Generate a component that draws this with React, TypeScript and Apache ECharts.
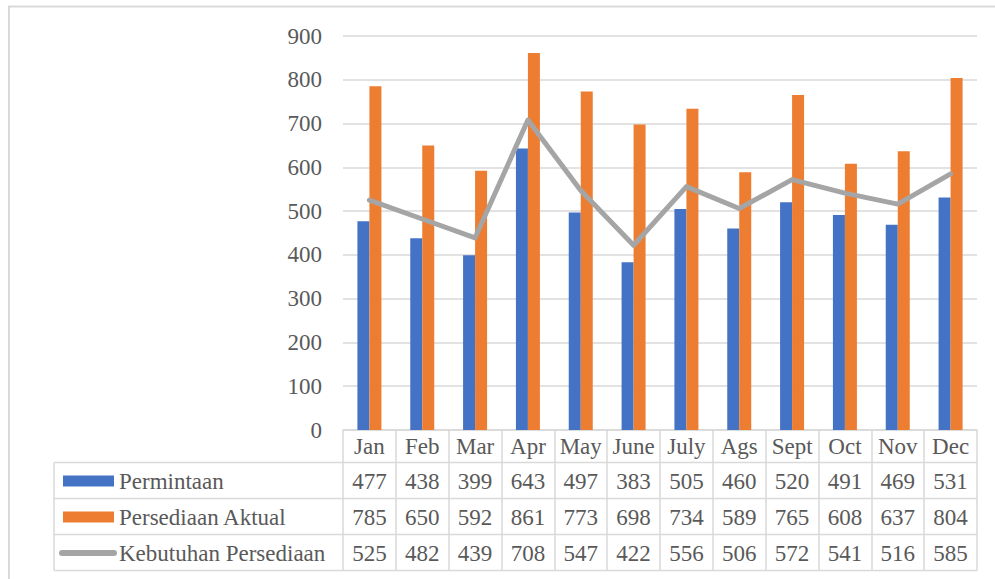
import React, { useEffect, useRef } from "react";
import * as echarts from "echarts";

const months = ["Jan", "Feb", "Mar", "Apr", "May", "June", "July", "Ags", "Sept", "Oct", "Nov", "Dec"];
const permintaan = [477, 438, 399, 643, 497, 383, 505, 460, 520, 491, 469, 531];
const persediaanAktual = [785, 650, 592, 861, 773, 698, 734, 589, 765, 608, 637, 804];
const kebutuhanPersediaan = [525, 482, 439, 708, 547, 422, 556, 506, 572, 541, 516, 585];
const seriesNames = ["Permintaan", "Persediaan Aktual", "Kebutuhan Persediaan"];
const yTicks = [0, 100, 200, 300, 400, 500, 600, 700, 800, 900];

const FONT = "'Liberation Serif', 'Times New Roman', serif";
const TEXT = "#595959";
const LINE = "#D9D9D9";
const BLUE = "#4472C4";
const ORANGE = "#ED7D31";
const GRAY = "#A5A5A5";

export default function App() {
  const ref = useRef<HTMLDivElement>(null);
  useEffect(() => {
    if (!ref.current) return;
    const chart = echarts.init(ref.current, undefined, { renderer: "svg" });

    const gridLeft = 343;
    const gridRight = 977;
    const gridTop = 36;
    const gridBottomY = 430;
    const rowLines = [462.5, 498.5, 534.5, 570.5];
    const rowCenters = [481, 517, 553];
    const tableLeft = 54;

    const valueRows = [permintaan, persediaanAktual, kebutuhanPersediaan];

    const extraAxes = valueRows.map((arr, r) => ({
      type: "category" as const,
      data: months,
      position: "bottom" as const,
      gridIndex: 0,
      axisLine: { show: false },
      axisTick: { show: false },
      splitLine: { show: false },
      axisLabel: {
        interval: 0,
        margin: rowCenters[r] - gridBottomY,
        verticalAlign: "middle" as const,
        color: TEXT,
        fontFamily: FONT,
        fontSize: 23,
        formatter: (_v: string, i: number) => String(arr[i]),
      },
    }));

    const graphics: any[] = [
      {
        type: "rect",
        shape: { x: 9, y: 6.5, width: 1200, height: 800 },
        style: { fill: "none", stroke: LINE, lineWidth: 2 },
        silent: true,
      },
    ];
    rowLines.forEach((y) => {
      graphics.push({
        type: "line",
        shape: { x1: tableLeft, y1: y, x2: gridRight, y2: y },
        style: { stroke: LINE, lineWidth: 1.5 },
        silent: true,
      });
    });
    graphics.push({
      type: "line",
      shape: { x1: tableLeft, y1: rowLines[0], x2: tableLeft, y2: rowLines[3] },
      style: { stroke: LINE, lineWidth: 1.5 },
      silent: true,
    });
    graphics.push({
      type: "rect",
      shape: { x: 63, y: rowCenters[0] - 5.5, width: 51, height: 11 },
      style: { fill: BLUE },
      silent: true,
    });
    graphics.push({
      type: "rect",
      shape: { x: 63, y: rowCenters[1] - 5.5, width: 51, height: 11 },
      style: { fill: ORANGE },
      silent: true,
    });
    graphics.push({
      type: "line",
      shape: { x1: 62, y1: rowCenters[2], x2: 114, y2: rowCenters[2] },
      style: { stroke: GRAY, lineWidth: 6, lineCap: "round" },
      silent: true,
    });
    seriesNames.forEach((name, i) => {
      graphics.push({
        type: "text",
        x: 119,
        y: rowCenters[i],
        style: {
          text: name,
          fill: TEXT,
          fontFamily: FONT,
          fontSize: 23,
          align: "left",
          verticalAlign: "middle",
        },
        silent: true,
      });
    });

    chart.setOption({
      animation: false,
      backgroundColor: "#ffffff",
      textStyle: { fontFamily: FONT },
      grid: {
        left: gridLeft,
        right: 995 - gridRight,
        top: gridTop,
        bottom: 579 - gridBottomY,
        containLabel: false,
        outerBoundsMode: "none",
      },
      xAxis: [
        {
          type: "category",
          data: months,
          position: "bottom",
          axisLine: { show: true, lineStyle: { color: LINE, width: 1.5 } },
          axisTick: {
            show: true,
            interval: 0,
            length: rowLines[3] - gridBottomY,
            lineStyle: { color: LINE, width: 1.5 },
          },
          axisLabel: {
            interval: 0,
            margin: 16,
            verticalAlign: "middle",
            color: TEXT,
            fontFamily: FONT,
            fontSize: 23,
          },
        },
        ...extraAxes,
      ],
      yAxis: {
        type: "value",
        min: 0,
        max: yTicks[yTicks.length - 1],
        interval: yTicks[1] - yTicks[0],
        axisLine: { show: false },
        axisTick: { show: false },
        splitLine: { lineStyle: { color: LINE, width: 1.5 } },
        axisLabel: {
          margin: 21,
          color: TEXT,
          fontFamily: FONT,
          fontSize: 23,
        },
      },
      series: [
        {
          name: seriesNames[0],
          type: "bar",
          data: permintaan,
          barWidth: 12,
          barGap: "0%",
          itemStyle: { color: BLUE },
        },
        {
          name: seriesNames[1],
          type: "bar",
          data: persediaanAktual,
          barWidth: 12,
          barGap: "0%",
          itemStyle: { color: ORANGE },
        },
        {
          name: seriesNames[2],
          type: "line",
          data: kebutuhanPersediaan,
          symbol: "none",
          lineStyle: { color: GRAY, width: 5, cap: "round", join: "round" },
          itemStyle: { color: GRAY },
          z: 5,
        },
      ],
      graphic: graphics,
    });

    return () => chart.dispose();
  }, []);

  return (
    <div
      ref={ref}
      style={{ position: "fixed", left: 0, top: 0, width: 995, height: 579 }}
    />
  );
}
